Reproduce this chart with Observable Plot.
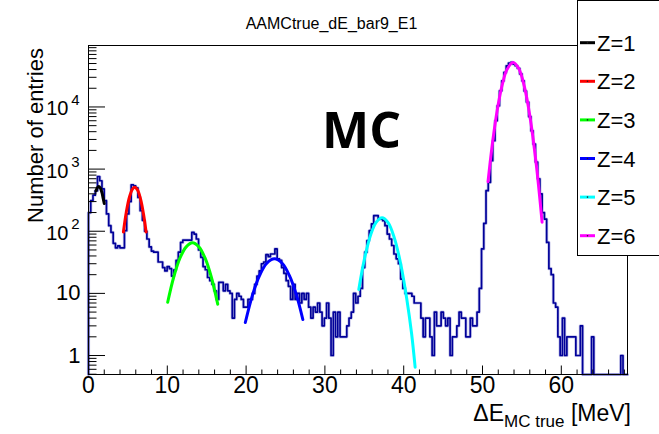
<!DOCTYPE html>
<html><head><meta charset="utf-8">
<script src="https://cdn.jsdelivr.net/npm/d3@7"></script>
<script src="https://cdn.jsdelivr.net/npm/@observablehq/plot@0.6"></script>
<style>html,body{margin:0;padding:0;background:#fff} svg{display:block}</style>
</head><body><div id="chart"></div>
<script>
// ---------- data ----------
const title = "AAMCtrue_dE_bar9_E1";
const binWidth = 0.285; // MeV
const counts = [
  200, 310, 380, 450, 760, 650, 480, 310, 190, 123,
  96, 64, 54, 58, 54, 54, 102, 190, 300, 560,
  540, 500, 350, 214, 150, 100, 75, 56, 48, 46,
  46, 32, 32, 26, 23, 27, 25, 19, 24, 34,
  46, 66, 72, 72, 72, 72, 96, 90, 75, 50,
  38, 27, 24, 18, 16, 14, 11, 8, 15, 15,
  11, 14, 11, 10, 4, 8, 10, 9, 8, 6,
  6, 8, 8, 10, 14, 19, 23, 30, 32, 42,
  39, 43, 43, 52, 36, 34, 26, 21, 16, 13,
  8, 14, 8, 10, 7, 10, 8, 10, 6, 4,
  6, 5, 7, 5, 3, 4, 7, 4, 1, 5,
  2, 5, 2, 2, 2, 3, 4, 5, 10, 7,
  9, 12, 26, 46, 71, 102, 131, 178, 178, 157,
  157, 148, 123, 90, 75, 59, 43, 36, 30, 17,
  12, 10, 10, 10, 9, 7, 7, 7, 4, 2,
  4, 4, 2, 1, 5, 3, 3, 5, 4, 3,
  4, 1, 2, 2, 3, 5, 4, 4, 2, 2,
  4, 3, 3, 5, 12, 52, 134, 450, 612, 1365,
  2860, 6000, 10450, 18200, 26400, 35900, 45900, 51000, 52000, 49000,
  46000, 42000, 34000, 26400, 18000, 12000, 7000, 4140, 2530, 1300,
  700, 400, 200, 157, 66, 25, 20, 7, 6, 2,
  1, 4, 1, 2, 2, 2, 2, 1, 1, 3,
  0, 0, 0, 0, 2, 0, 0, 0, 0, 0,
  0, 0, 0, 0, 0, 0, 0, 1, 0, 0
];

// fitted curves, points (x in MeV, y in entries)
const z1X = [0.95, 1.1, 1.3, 1.5, 1.7, 1.85, 2.0];
const z1Y = [443, 497, 525, 497, 421, 345, 280];
const z2X = [4.43, 4.8, 5.2, 5.6, 5.87, 6.2, 6.6, 7.0, 7.31];
const z2Y = [97, 204, 356, 481, 510, 467, 333, 183, 97];
const z3X = [10.05, 10.8, 11.6, 12.4, 13.2, 14.0, 14.8, 15.6, 16.4];
const z3Y = [7.2, 18, 36.8, 56, 65, 56, 36.8, 18, 6.7];
const z4X = [19.9, 20.8, 21.7, 22.6, 23.6, 24.6, 25.5, 26.4, 27.2];
const z4Y = [3.4, 9.3, 19.3, 30.3, 36, 30.3, 19.3, 9.3, 3.8];
const z5X = [34.3, 35.0, 35.8, 36.5, 37.25, 38.0, 38.8, 39.6, 40.4, 41.0, 41.45];
const z5Y = [11.6, 35, 87, 139, 165, 139, 79, 30.6, 8, 2.26, 0.65];
const z6X = [50.7, 51.3, 51.9, 52.5, 53.1, 53.88, 54.6, 55.3, 56.0, 56.8, 57.56];
const z6Y = [627, 2840, 9390, 22640, 39870, 52000, 41460, 21560, 7300, 1257, 140];

const fitLabels = ["Z=1", "Z=2", "Z=3", "Z=4", "Z=5", "Z=6"];
const fitColors = ["#000000", "#ff0000", "#00ff00", "#0000ff", "#00ffff", "#ff00ff"];

const xMajorTicks = [0, 10, 20, 30, 40, 50, 60];
const xMinorTicks = [2,4,6,8,12,14,16,18,22,24,26,28,32,34,36,38,42,44,46,48,52,54,56,58,62,64,66,68];
const yMajorTicks = [1, 10, 100, 1000, 10000];
const yMinorTicks = [0.5,0.6,0.7,0.8,0.9, 2,3,4,5,6,7,8,9, 20,30,40,50,60,70,80,90,
  200,300,400,500,600,700,800,900, 2000,3000,4000,5000,6000,7000,8000,9000,
  20000,30000,40000,50000,60000,70000,80000,90000];
const yLabelBase = ["1", "10", "10", "10", "10"];
const yLabelExp  = ["", "", "2", "3", "4"];

const xMax = 68.4;
const yMin = 0.495, yMax = 97500;

// ---------- build ----------
const hist = [{x: 0, y: yMin}];
counts.forEach((c, i) => hist.push({x: i * binWidth, y: Math.max(c, yMin)}));
hist.push({x: counts.length * binWidth, y: Math.max(counts[counts.length - 1], yMin)});

const fitsX = [z1X, z2X, z3X, z4X, z5X, z6X];
const fitsY = [z1Y, z2Y, z3Y, z4Y, z5Y, z6Y];
const fits = fitsX.map((xs, k) => xs.map((x, j) => ({x, y: fitsY[k][j], k})));

const W = 659, H = 434, mL = 88, mR = 32, mT = 45, mB = 60;
const fw = W - mL - mR, fh = H - mT - mB;

const expIdx = yMajorTicks.map((d, i) => i).filter(i => yLabelExp[i]);
const plainIdx = yMajorTicks.map((d, i) => i).filter(i => !yLabelExp[i]);

function legendMark() {
  const g = d3.create("svg:g").attr("text-anchor", "start");
  g.append("rect").attr("x", 577.5).attr("y", 0.5).attr("width", 90).attr("height", 255)
    .attr("fill", "white").attr("stroke", "black").attr("stroke-width", 1);
  fitLabels.forEach((lab, i) => {
    const yy = 42.7 + i * 38.6;
    g.append("line").attr("x1", 580).attr("x2", 595).attr("y1", yy).attr("y2", yy)
      .attr("stroke", fitColors[i]).attr("stroke-width", 3);
    g.append("circle").attr("cx", 587.5).attr("cy", yy).attr("r", 0.8).attr("fill", "#222");
    g.append("text").attr("x", 597).attr("y", yy + 8).attr("font-size", 22)
      .attr("text-anchor", "start")
      .attr("font-family", "Liberation Sans, Arial, sans-serif").attr("fill", "black").text(lab);
  });
  return g.node();
}

function xTitleMark() {
  const t = d3.create("svg:text").attr("x", 631).attr("y", 421).attr("text-anchor", "end")
    .attr("font-family", "Liberation Sans, Arial, sans-serif").attr("fill", "black");
  t.append("tspan").attr("font-size", 23).text("\u0394E");
  t.append("tspan").attr("font-size", 17).attr("dy", 6).text("MC true");
  t.append("tspan").attr("font-size", 23).attr("dy", -6).text(" [MeV]");
  return t.node();
}

const chart = Plot.plot({
  width: W, height: H,
  marginLeft: mL, marginRight: mR, marginTop: mT, marginBottom: mB,
  style: {fontFamily: "Liberation Sans, Arial, Helvetica, sans-serif", background: "white", color: "black"},
  x: {domain: [0, xMax], label: null},
  y: {type: "log", domain: [yMin, yMax], axis: null, label: null},
  marks: [
    // histogram
    Plot.line(hist, {x: "x", y: "y", curve: "step-after", stroke: "#8f8fd8", strokeWidth: 3.2, strokeOpacity: 0.5}),
    Plot.line(hist, {x: "x", y: "y", curve: "step-after", stroke: "#000099", strokeWidth: 1.7}),
    // fits
    ...fits.map((pts, k) => Plot.line(pts, {x: "x", y: "y", curve: "catmull-rom", stroke: fitColors[k], strokeWidth: 3, clip: true})),
    // frame
    Plot.frame({stroke: "black", strokeWidth: 1}),
    // ticks inside the frame
    Plot.tickX(xMajorTicks, {x: d => d, insetTop: fh - 8.5, stroke: "black"}),
    Plot.tickX(xMinorTicks, {x: d => d, insetTop: fh - 4.5, stroke: "black"}),
    Plot.tickY(yMajorTicks, {y: d => d, insetRight: fw - 17, stroke: "black"}),
    Plot.tickY(yMinorTicks, {y: d => d, insetRight: fw - 8.5, stroke: "black"}),
    // x tick labels
    Plot.axisX(xMajorTicks, {tickSize: 0, tickPadding: 2, fontSize: 23, label: null, tickFormat: d => String(d)}),
    // y tick labels
    Plot.text(plainIdx, {y: i => yMajorTicks[i], text: i => yLabelBase[i], frameAnchor: "left", dx: -8, textAnchor: "end", fontSize: 22}),
    Plot.text(expIdx, {y: i => yMajorTicks[i], text: i => yLabelBase[i], frameAnchor: "left", dx: -20, dy: 2, textAnchor: "end", fontSize: 20}),
    Plot.text(expIdx, {y: i => yMajorTicks[i], text: i => yLabelExp[i], frameAnchor: "left", dx: -9, dy: -7, textAnchor: "end", fontSize: 15}),
    // y title
    Plot.text(["Number of entries"], {frameAnchor: "top-left", dx: 27 - mL, dy: 135 - mT, rotate: -90, fontSize: 22, textAnchor: "middle"}),
    // title
    Plot.text([title], {frameAnchor: "top-left", dx: 331 - mL, dy: -28, fontSize: 16, textAnchor: "middle"}),
    // MC label
    Plot.text(["MC"], {frameAnchor: "top-left", dx: 361 - mL, dy: 112 - mT, fontSize: 50, fontWeight: "bold", fontFamily: "Open Sans, sans-serif", textAnchor: "middle"}),
    // x title and legend
    xTitleMark,
    legendMark
  ]
});
document.getElementById("chart").appendChild(chart);
</script>
</body></html>
